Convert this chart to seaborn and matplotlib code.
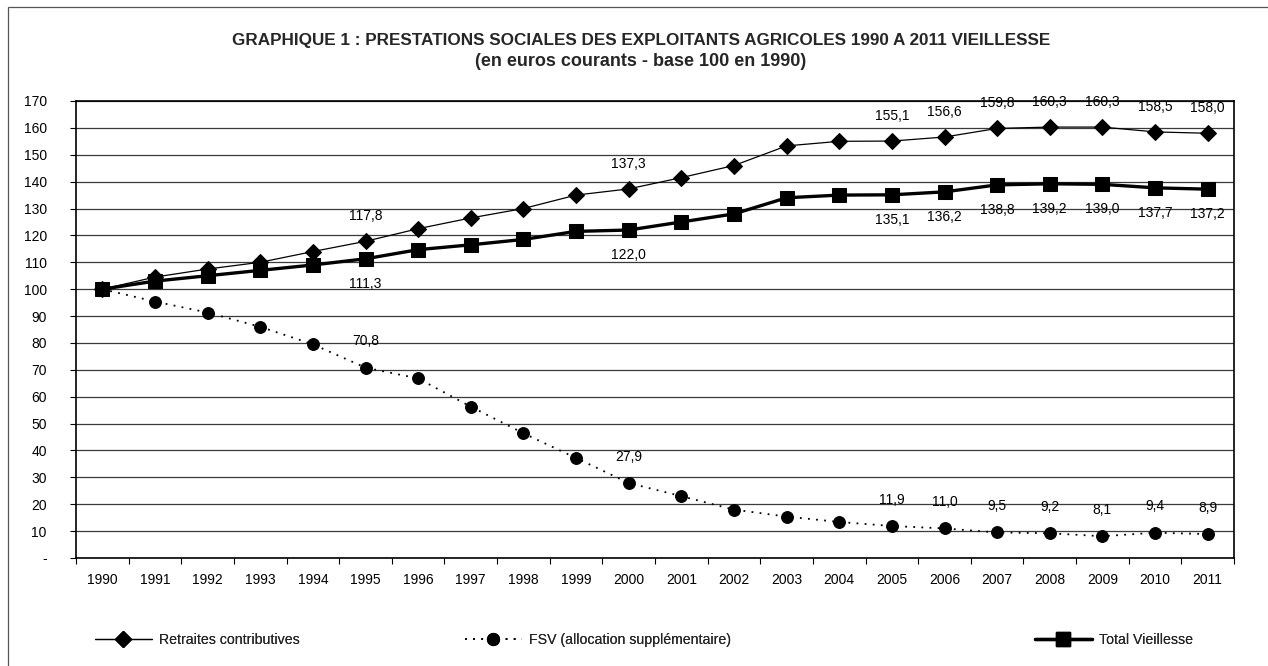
import matplotlib
matplotlib.use("Agg")
import matplotlib.pyplot as plt
from matplotlib.lines import Line2D
from matplotlib.patches import Rectangle
import seaborn as sns
import pandas as pd

years = list(range(1990, 2012))
retraites = [100.0, 104.5, 107.5, 110.0, 114.0, 117.8, 122.5, 126.5, 130.0, 135.0, 137.3,
             141.5, 146.0, 153.3, 155.0, 155.1, 156.6, 159.8, 160.3, 160.3, 158.5, 158.0]
fsv = [100.0, 95.4, 91.3, 86.0, 79.5, 70.8, 66.8, 56.3, 46.4, 37.2, 27.9,
       23.0, 18.0, 15.4, 13.4, 11.9, 11.0, 9.5, 9.2, 8.1, 9.4, 8.9]
total = [100.0, 103.0, 105.0, 107.0, 109.0, 111.3, 114.7, 116.5, 118.5, 121.5, 122.0,
         125.0, 128.0, 134.0, 135.0, 135.1, 136.2, 138.8, 139.2, 139.0, 137.7, 137.2]
labelled_years = [1995, 2000, 2005, 2006, 2007, 2008, 2009, 2010, 2011]
y_ticks = list(range(0, 171, 10))
y_tick_labels = ["-"] + [str(v) for v in y_ticks[1:]]
series_names = ["Retraites contributives", "FSV (allocation supplémentaire)", "Total Vieillesse"]
title = "GRAPHIQUE 1 : PRESTATIONS SOCIALES DES EXPLOITANTS AGRICOLES 1990 A 2011 VIEILLESSE"
subtitle = "(en euros courants - base 100 en 1990)"

sns.set_theme(style="white")
plt.rcParams["font.family"] = ["Liberation Sans", "DejaVu Sans"]

df = pd.DataFrame({"annee": years, "retraites": retraites, "fsv": fsv, "total": total})

W, H = 1268, 666
fig = plt.figure(figsize=(W / 100, H / 100), dpi=100)
ax = fig.add_axes([76 / W, 1 - 558 / H, (1234 - 76) / W, (558 - 101) / H])

styles = {
    "retraites": dict(marker="D", markersize=8, linewidth=0.9, linestyle="-"),
    "fsv": dict(marker="o", markersize=8.5, linewidth=1.3, linestyle=(0, (1, 3.5))),
    "total": dict(marker="s", markersize=9.5, linewidth=2.4, linestyle="-"),
}
for col in ["fsv", "retraites", "total"]:
    sns.lineplot(data=df, x="annee", y=col, ax=ax, color="black",
                 markeredgecolor="black", markerfacecolor="black", legend=False,
                 zorder=3, **styles[col])

FS = 10
# data labels
for yr in labelled_years:
    i = years.index(yr)
    for vals, dy in [(retraites, 18), (total, -18), (fsv, 19)]:
        ax.annotate(f"{vals[i]:.1f}".replace(".", ","), (yr, vals[i]),
                    xytext=(0, dy), textcoords="offset points", ha="center", va="center",
                    fontsize=FS, color="black", zorder=4)

ax.set_xlim(1989.5, 2011.5)
ax.set_ylim(0, 170)
ax.set_yticks(y_ticks)
ax.set_yticklabels(y_tick_labels)
ax.set_xticks(years)
ax.set_xticklabels([str(y) for y in years])
ax.set_xticks([y - 0.5 for y in years] + [years[-1] + 0.5], minor=True)
ax.tick_params(axis="x", which="major", length=0, pad=11, labelsize=FS, colors="black")
ax.tick_params(axis="x", which="minor", length=4, width=0.8, direction="out", color="black", bottom=True)
ax.tick_params(axis="y", which="major", length=4, width=0.8, direction="out", pad=17,
               labelsize=FS, colors="black", left=True)
ax.set_xlabel("")
ax.set_ylabel("")
ax.yaxis.grid(True, color="#3a3a3a", linewidth=0.9)
ax.xaxis.grid(False)
ax.set_axisbelow(True)
for s in ax.spines.values():
    s.set_color("black")
    s.set_linewidth(1.2)

fig.text(641 / W, 1 - 40 / H, title, ha="center", va="center", fontsize=12.3, fontweight="bold")
fig.text(641 / W, 1 - 62 / H, subtitle, ha="center", va="center", fontsize=13, fontweight="bold")

# outer frame
fig.add_artist(Rectangle((8 / W, -0.2), 1.2, 1.2 - 7 / H, transform=fig.transFigure,
                         fill=False, edgecolor="#555555", linewidth=0.9))

# legends
positions = [95, 465, 1035]
keys = ["retraites", "fsv", "total"]
for name, key, px in zip(series_names, keys, positions):
    h = Line2D([], [], color="black", markerfacecolor="black", markeredgecolor="black", **styles[key])
    leg = fig.legend([h], [name], loc="center left", bbox_to_anchor=(px / W, 1 - 640 / H),
                     frameon=False, fontsize=10.2, handlelength=4.0, handletextpad=0.5,
                     borderpad=0, borderaxespad=0)
    fig.add_artist(leg)

fig.savefig("out.png", dpi=100)
